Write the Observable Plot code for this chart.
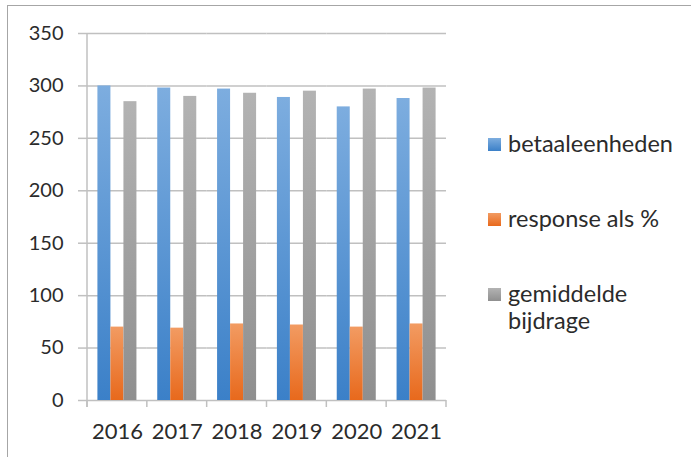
<!DOCTYPE html>
<html><head><meta charset="utf-8">
<script src="https://cdn.jsdelivr.net/npm/d3@7"></script>
<script src="https://cdn.jsdelivr.net/npm/@observablehq/plot@0.6"></script>
<style>
body{margin:0;background:#fff;}
#wrap{position:relative;width:691px;height:457px;overflow:hidden;}
#border{position:absolute;left:7px;top:5px;width:720px;height:480px;border:1.5px solid #a6a6a6;box-sizing:border-box;}
#chart{position:absolute;left:0;top:0;}
</style>
</head><body>
<div id="wrap"><div id="border"></div><div id="chart"></div></div>
<script>
const years = ["2016", "2017", "2018", "2019", "2020", "2021"];
const series = ["betaaleenheden", "response als %", "gemiddelde bijdrage"];
const betaaleenheden = [300, 298, 297, 289, 280, 288];
const responseAlsPct = [70, 69, 73, 72, 70, 73];
const gemiddeldeBijdrage = [285, 290, 293, 295, 297, 298];
const yTicks = [0, 50, 100, 150, 200, 250, 300, 350];
const colorTop = ["#7daddf", "#f29b62", "#b3b3b3"];
const colorBottom = ["#3b80c8", "#e8691c", "#8f8f8f"];
const legendLines = [["betaaleenheden"], ["response als %"], ["gemiddelde", "bijdrage"]];

const values = [betaaleenheden, responseAlsPct, gemiddeldeBijdrage];
const rows = [];
years.forEach((yr, i) => series.forEach((s, j) => rows.push({year: yr, series: s, value: values[j][i]})));

const font = "Lato, 'Open Sans', sans-serif";
const plot = Plot.plot({
  width: 691, height: 457,
  marginLeft: 87, marginRight: 245, marginTop: 33, marginBottom: 57,
  style: {fontFamily: font, color: "#2b2b2b", background: "transparent", overflow: "visible"},
  fx: {domain: years, padding: 0, label: null, round: false},
  x: {domain: series, paddingInner: 0, paddingOuter: 0.8, axis: null, round: false},
  y: {domain: [0, 350], label: null},
  color: {domain: series, range: series.map((_, j) => `url(#grad${j})`)},
  marks: [
    Plot.ruleY(yTicks, {stroke: "#c0c0c0", strokeWidth: 1.5}),
    Plot.barY(rows, {fx: "year", x: "series", y: "value", fill: "series"}),
    Plot.axisY(yTicks, {tickSize: 9, tickPadding: 15, fontSize: 20, stroke: "#c0c0c0", strokeWidth: 1.5, label: null, fill: "#2b2b2b"}),
    Plot.axisFx({anchor: "bottom", tickSize: 0, tickPadding: 23, fontSize: 22, label: null, fill: "#2b2b2b"})
  ]
});

const svg = d3.select(plot);
const defs = svg.insert("defs", ":first-child");
series.forEach((_, j) => {
  const g = defs.append("linearGradient").attr("id", `grad${j}`).attr("x1", 0).attr("y1", 0).attr("x2", 0).attr("y2", 1);
  g.append("stop").attr("offset", "0%").attr("stop-color", colorTop[j]);
  g.append("stop").attr("offset", "100%").attr("stop-color", colorBottom[j]);
});

const fx = plot.scale("fx");
const y = plot.scale("y");
const y0 = y.apply(0), yTop = y.apply(350);
const ax = svg.append("g").attr("stroke", "#c0c0c0").attr("stroke-width", 1.5);
const left = fx.apply(years[0]);
ax.append("line").attr("x1", left).attr("x2", left).attr("y1", yTop).attr("y2", y0 + 7);
const bounds = years.map(v => fx.apply(v)).concat([fx.apply(years[years.length - 1]) + fx.bandwidth]);
bounds.forEach(bx => ax.append("line").attr("x1", bx).attr("x2", bx).attr("y1", y0).attr("y2", y0 + 7));

// legend
const legTops = [138, 213, 288];
const lg = svg.append("g").attr("font-family", font).attr("font-size", 23.5).attr("fill", "#2b2b2b").attr("text-anchor", "start");
legendLines.forEach((lines, j) => {
  lg.append("rect").attr("x", 488).attr("y", legTops[j]).attr("width", 13).attr("height", 13).attr("fill", `url(#grad${j})`);
  lines.forEach((t, k) => lg.append("text").attr("x", 508).attr("y", legTops[j] + 14 + k * 27).text(t));
});

document.getElementById("chart").appendChild(plot);
</script>
</body></html>
